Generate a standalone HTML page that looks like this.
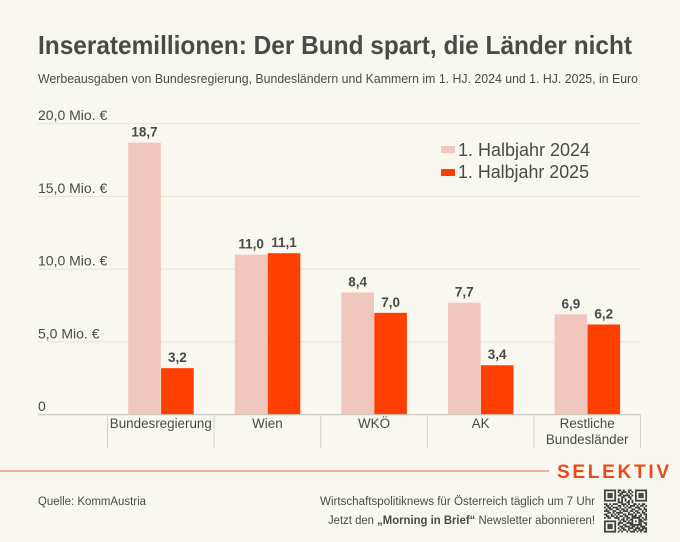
<!DOCTYPE html>
<html lang="de">
<head>
<meta charset="utf-8">
<title>Inseratemillionen</title>
<style>
html,body{margin:0;padding:0;background:#f9f8f0;}
body{width:680px;height:542px;overflow:hidden;}
svg{display:block;font-family:"Liberation Sans",sans-serif;}
text{fill:#4a4a48;}
</style>
</head>
<body>
<svg id="chart" width="680" height="542" viewBox="0 0 680 542" xmlns="http://www.w3.org/2000/svg">
  <rect x="0" y="0" width="680" height="542" fill="#f9f8f0"/>
  <text x="38" y="54" font-size="26" font-weight="700" textLength="594" lengthAdjust="spacingAndGlyphs">Inseratemillionen: Der Bund spart, die Länder nicht</text>
  <text x="38" y="83" font-size="13" textLength="600" lengthAdjust="spacingAndGlyphs">Werbeausgaben von Bundesregierung, Bundesländern und Kammern im 1. HJ. 2024 und 1. HJ. 2025, in Euro</text>
  <g id="grid"></g>
  <g id="bars"></g>
  <g id="labels"></g>
  <g id="xaxis"></g>
  <g>
    <g>
      <rect x="441" y="146" width="14" height="7" fill="#efc7bc"/>
      <text x="458" y="156" font-size="18" textLength="132" lengthAdjust="spacingAndGlyphs">1. Halbjahr 2024</text>
    </g>
    <g>
      <rect x="441" y="169" width="14" height="7" fill="#ff3f00"/>
      <text x="458" y="178" font-size="18" textLength="131" lengthAdjust="spacingAndGlyphs">1. Halbjahr 2025</text>
    </g>
  </g>
  <line x1="0" y1="471" x2="549" y2="471" stroke="#f09468" stroke-width="1.4"/>
  <text x="557" y="478" font-size="19" font-weight="700" style="fill:#e9491b" textLength="112" lengthAdjust="spacing">SELEKTIV</text>
  <text x="38" y="505" font-size="11.5" textLength="108" lengthAdjust="spacingAndGlyphs">Quelle: KommAustria</text>
  <text x="320" y="505" font-size="11.5" textLength="275" lengthAdjust="spacingAndGlyphs">Wirtschaftspolitiknews für Österreich täglich um 7 Uhr</text>
  <text x="328" y="524" font-size="11.5" textLength="267" lengthAdjust="spacingAndGlyphs">Jetzt den <tspan font-weight="700">„Morning in Brief“</tspan> Newsletter abonnieren!</text>
  <g id="qr"></g>
</svg>
<script>
// Chart data
const categories = [["Bundesregierung"], ["Wien"], ["WKÖ"], ["AK"], ["Restliche", "Bundesländer"]];
const values2024 = [18.7, 11.0, 8.4, 7.7, 6.9];
const values2025 = [3.2, 11.1, 7.0, 3.4, 6.2];
const tickValues = [0, 5, 10, 15, 20];
const tickLabels = ["0", "5,0 Mio. €", "10,0 Mio. €", "15,0 Mio. €", "20,0 Mio. €"];

// QR code decoration pattern
const qrRows = [
"1111111011010011001111111",
"1000001010111010101000001",
"1011101001100101001011101",
"1011101011011110101011101",
"1011101000110011001011101",
"1000001010101001001000001",
"1111111010101010101111111",
"0000000011100110100000000",
"1101011100111010011010110",
"0110100011010101110101101",
"1011011101001011001110010",
"0101100110110100110011011",
"1110011001011101101100101",
"0011010111100010010110110",
"1100101010011011101001011",
"0110110101101100111011001",
"1011001110010110111110101",
"0000000010110101100011011",
"1111111001011010101011100",
"1000001011100111100011011",
"1011101010011001111111001",
"1011101001101110110101110",
"1011101010110011101110111",
"1000001001011010011011101",
"1111111010100101110101011"
];

const NS = "http://www.w3.org/2000/svg";
const plot = { left: 38, right: 640.5, bandStart: 107.5, bandWidth: 106.6, top: 123.7, bottom: 414.7, maxValue: 20 };
const barWidth = 32.6;

function y(v) {
  return plot.bottom - (v / plot.maxValue) * (plot.bottom - plot.top);
}
function bandX(i) {
  return plot.bandStart + i * plot.bandWidth;
}
function make(tag, attrs, parent, content) {
  const el = document.createElementNS(NS, tag);
  for (const k in attrs) el.setAttribute(k, attrs[k]);
  if (content !== undefined) el.textContent = content;
  parent.appendChild(el);
  return el;
}
function fmt(v) {
  return v.toFixed(1).replace(".", ",");
}

const gridG = document.getElementById("grid");
const barsG = document.getElementById("bars");
const labelsG = document.getElementById("labels");
const xG = document.getElementById("xaxis");
const qrG = document.getElementById("qr");

tickValues.forEach(function (t, i) {
  if (t !== 0) {
    const ln = make("line", { x1: plot.left, x2: plot.right, y1: y(t), y2: y(t), stroke: "#e7e5da", "stroke-width": 1.2 }, gridG);
    
    
  }
  const tx = make("text", { x: plot.left, y: y(t) - 3.5, "font-size": 14 }, gridG, tickLabels[i]);
  
  
});

function drawSeries(vals, offset, color, key) {
  vals.forEach(function (v, i) {
    const cx = bandX(i) + plot.bandWidth / 2;
    const x = cx + offset;
    const r = make("rect", { x: x, y: y(v), width: barWidth, height: plot.bottom - y(v), fill: color }, barsG);
    
    
    const t = make("text", { x: x + barWidth / 2, y: y(v) - 6, "font-size": 13.5, "font-weight": 700, "text-anchor": "middle" }, labelsG, fmt(v));
    
    
  });
}
drawSeries(values2024, -barWidth, "#efc7bc", "2024");
drawSeries(values2025, 0.3, "#ff3f00", "2025");

const baseline = make("line", { x1: plot.left, x2: plot.right, y1: plot.bottom, y2: plot.bottom, stroke: "#c8c7bf", "stroke-width": 1.2 }, xG);



for (let i = 0; i <= categories.length; i++) {
  const sep = make("line", { x1: bandX(i), x2: bandX(i), y1: plot.bottom, y2: 448, stroke: "#d3d2ca", "stroke-width": 1 }, xG);
  
  
}
categories.forEach(function (lines, i) {
  lines.forEach(function (line, j) {
    const t = make("text", { x: bandX(i) + plot.bandWidth / 2, y: 428 + j * 16, "font-size": 13.4, "text-anchor": "middle" }, xG, line);
    
    
  });
});

const qrSize = 43 / qrRows.length;
qrRows.forEach(function (row, r) {
  row.split("").forEach(function (c, k) {
    if (c === "1") {
      make("rect", { x: 604 + k * qrSize, y: 489.5 + r * qrSize, width: qrSize + 0.05, height: qrSize + 0.05, fill: "#3a3a38" }, qrG);
    }
  });
});
</script>
</body>
</html>
